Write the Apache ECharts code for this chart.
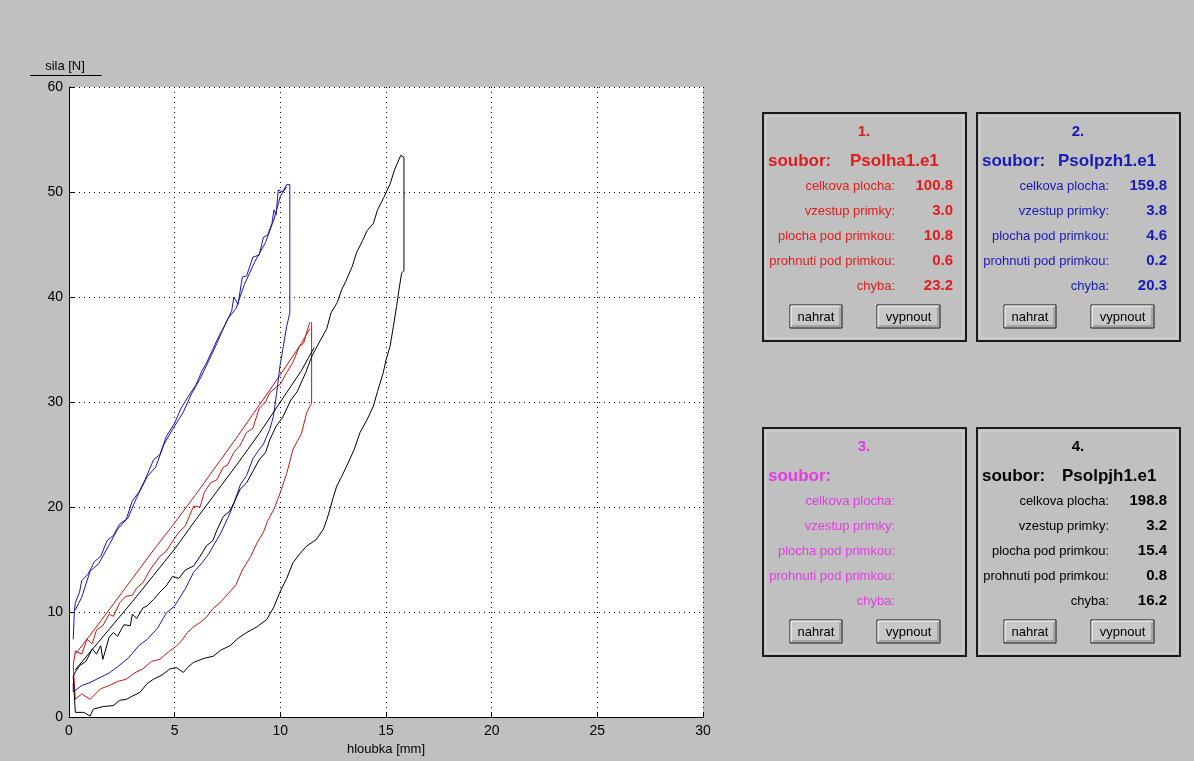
<!DOCTYPE html>
<html>
<head>
<meta charset="utf-8">
<title>sila - hloubka</title>
<script src="https://cdn.jsdelivr.net/npm/echarts@6/dist/echarts.min.js"></script>
<style>
html, body { margin: 0; padding: 0; background: #c0c0c0; }
#chart { width: 1194px; height: 761px; }
</style>
</head>
<body>
<div id="chart"></div>
<script>
// hloubka [mm] / sila [N]
const blueUpperX = [0.2, 0.25, 0.3, 0.5, 0.6, 0.9, 1.2, 1.5, 1.8, 2.1, 2.4, 2.7, 3.0, 3.3, 3.6, 4.0, 4.3, 4.6, 5.0, 5.3, 5.6, 6.0, 6.3, 6.5, 6.8, 7.1, 7.4, 7.7, 7.8, 8.0, 8.2, 8.4, 8.7, 9.0, 9.2, 9.4, 9.6, 9.7, 9.8, 9.9, 10.1, 10.3, 10.45];
const blueUpperY = [7.4, 10.0, 10.9, 11.9, 13.0, 13.6, 14.8, 15.3, 16.8, 17.3, 18.4, 18.8, 20.6, 21.4, 22.6, 24.5, 25.0, 26.7, 28.0, 29.4, 30.4, 31.6, 33.0, 33.7, 35.0, 36.3, 37.4, 38.7, 40.0, 39.3, 41.9, 42.0, 43.8, 44.0, 45.7, 45.9, 47.0, 48.3, 47.8, 50.2, 50.0, 50.7, 50.7];
const blueUpper2X = [0.3, 0.6, 1.0, 1.4, 1.9, 2.3, 2.8, 3.2, 3.7, 4.1, 4.5, 4.9, 5.4, 5.8, 6.2, 6.7, 7.0, 7.5, 7.9, 8.3, 8.8, 9.3, 9.7, 10.0, 10.3];
const blueUpper2Y = [10.2, 11.4, 13.9, 14.6, 16.4, 17.9, 19.0, 20.9, 22.9, 23.8, 26.0, 27.4, 29.0, 30.8, 32.2, 34.3, 35.6, 37.9, 38.9, 41.2, 43.4, 45.2, 47.4, 49.6, 50.5];
const blueLowerX = [10.45, 10.45, 10.3, 10.14, 9.98, 9.83, 9.67, 9.5, 9.2, 8.9, 8.7, 8.4, 8.1, 7.8, 7.5, 7.2, 7.0, 6.6, 6.3, 5.9, 5.5, 5.0, 4.6, 4.2, 3.7, 3.3, 2.8, 2.3, 1.9, 1.5, 1.0, 0.6, 0.2, 0.2];
const blueLowerY = [50.7, 38.5, 37.2, 35.3, 33.4, 30.9, 28.6, 27.4, 26.0, 25.2, 24.6, 23.0, 22.1, 20.3, 18.9, 17.6, 16.9, 15.5, 14.7, 13.8, 12.2, 10.6, 9.9, 8.5, 7.4, 6.8, 5.6, 4.8, 4.2, 3.8, 3.3, 3.0, 2.4, 3.2];

const redUpperX = [0.2, 0.3, 0.6, 0.85, 1.1, 1.3, 1.6, 1.9, 2.1, 2.4, 2.7, 3.0, 3.2, 3.5, 3.8, 4.0, 4.3, 4.6, 4.95, 5.2, 5.5, 5.9, 6.2, 6.4, 6.7, 7.0, 7.3, 7.5, 7.8, 8.1, 8.4, 8.7, 9.0, 9.3, 9.5, 9.8, 10.0, 10.3, 10.6, 10.9, 11.1, 11.3, 11.4];
const redUpperY = [4.9, 6.3, 6.0, 7.4, 7.0, 8.3, 8.7, 9.8, 9.6, 10.9, 11.5, 11.6, 12.3, 12.8, 13.9, 14.5, 15.3, 15.8, 16.9, 17.6, 18.2, 20.1, 20.0, 21.4, 22.3, 22.6, 23.8, 24.0, 25.2, 25.9, 27.1, 27.5, 29.4, 30.0, 30.9, 31.4, 31.7, 32.8, 33.8, 35.3, 35.6, 37.0, 37.6];
const redLowerX = [11.48, 11.48, 11.4, 11.25, 11.0, 10.6, 10.3, 10.0, 9.7, 9.4, 9.2, 8.9, 8.6, 8.2, 7.9, 7.6, 7.2, 6.8, 6.5, 6.2, 5.9, 5.6, 5.3, 5.1, 4.7, 4.3, 3.9, 3.5, 3.1, 2.7, 2.3, 1.9, 1.5, 1.0, 0.6, 0.3, 0.2];
const redLowerY = [37.6, 29.9, 29.6, 29.0, 27.0, 25.5, 23.2, 21.4, 19.8, 18.7, 17.6, 16.6, 15.3, 14.0, 12.6, 11.9, 11.0, 10.3, 9.5, 9.0, 8.6, 8.05, 7.2, 6.8, 6.2, 5.5, 5.3, 4.6, 4.2, 3.6, 3.4, 3.0, 2.7, 1.7, 2.2, 1.7, 4.9];
const redThinX = [0.3, 1.0, 2.0, 3.0, 4.0, 5.0, 6.0, 7.0, 8.0, 9.0, 10.0, 11.0, 11.4];
const redThinY = [6.0, 7.8, 10.5, 13.2, 15.9, 18.5, 21.2, 24.0, 26.8, 29.7, 32.6, 35.6, 37.0];

const blackUpperX = [0.2, 0.3, 0.5, 0.8, 1.1, 1.3, 1.5, 1.6, 1.9, 2.1, 2.3, 2.6, 2.9, 3.0, 3.2, 3.5, 3.7, 4.0, 4.3, 4.6, 4.9, 5.2, 5.5, 5.9, 6.2, 6.5, 6.8, 7.0, 7.3, 7.6, 7.8, 8.1, 8.4, 8.7, 9.0, 9.3, 9.5, 9.8, 10.1, 10.5, 10.8, 11.2, 11.5, 11.9, 12.2, 12.4, 12.7, 12.9, 13.1, 13.4, 13.6, 13.9, 14.1, 14.4, 14.6, 14.9, 15.2, 15.4, 15.7, 15.85];
const blackUpperY = [3.9, 4.3, 4.9, 5.3, 6.5, 6.0, 6.8, 5.5, 7.6, 8.05, 7.7, 8.8, 8.7, 9.8, 9.4, 10.4, 10.6, 11.2, 11.9, 12.5, 13.4, 13.2, 14.0, 14.4, 15.3, 16.3, 16.8, 17.8, 19.1, 19.6, 20.4, 21.7, 22.3, 23.4, 24.5, 25.2, 26.4, 27.7, 28.5, 30.2, 31.0, 32.8, 34.4, 35.9, 37.0, 38.5, 39.5, 40.7, 41.5, 42.9, 44.2, 45.4, 46.3, 47.0, 48.3, 49.5, 50.8, 52.1, 53.5, 53.3];
const blackLowerX = [15.85, 15.85, 15.74, 15.6, 15.5, 15.35, 15.19, 15.0, 14.87, 14.6, 14.4, 14.1, 13.77, 13.5, 13.14, 12.9, 12.67, 12.5, 12.35, 12.2, 12.04, 11.7, 11.25, 10.9, 10.6, 10.3, 9.98, 9.7, 9.36, 8.9, 8.4, 8.0, 7.62, 7.2, 6.83, 6.4, 5.88, 5.6, 5.41, 5.1, 4.78, 4.4, 3.99, 3.7, 3.36, 3.0, 2.73, 2.4, 2.1, 1.6, 1.15, 1.0, 0.7, 0.3, 0.2];
const blackLowerY = [53.3, 42.5, 42.3, 40.5, 39.1, 37.2, 35.3, 34.0, 32.8, 31.0, 29.6, 28.3, 27.1, 25.5, 23.9, 22.9, 22.0, 20.9, 19.8, 18.8, 17.9, 16.9, 16.3, 15.5, 14.7, 13.2, 11.9, 10.5, 9.3, 8.6, 8.05, 7.5, 6.8, 6.4, 5.8, 5.6, 5.2, 4.7, 4.25, 4.7, 4.6, 4.0, 3.6, 3.2, 2.35, 2.0, 1.7, 1.6, 1.1, 1.0, 0.76, 0.1, 0.45, 0.45, 3.9];
const blackThinX = [0.3, 1.0, 2.0, 3.0, 4.0, 5.0, 6.0, 7.0, 8.0, 9.0, 10.0, 11.0, 11.6];
const blackThinY = [4.5, 6.2, 8.6, 11.0, 13.5, 16.0, 18.8, 21.5, 24.2, 27.0, 30.0, 33.0, 35.2];

const xTicks = [0, 5, 10, 15, 20, 25, 30];
const yTicks = [0, 10, 20, 30, 40, 50, 60];

// panely vpravo
const rowLabels = ['celkova plocha:', 'vzestup primky:', 'plocha pod primkou:', 'prohnuti pod primkou:', 'chyba:'];
const panelNames = ['1.', '2.', '3.', '4.'];
const panelFiles = ['Psolha1.e1', 'Psolpzh1.e1', '', 'Psolpjh1.e1'];
const panelValues = [
  ['100.8', '3.0', '10.8', '0.6', '23.2'],
  ['159.8', '3.8', '4.6', '0.2', '20.3'],
  [],
  ['198.8', '3.2', '15.4', '0.8', '16.2']
];

const FONT = 'Liberation Sans, Arial, sans-serif';
const panelColors = ['#e01c1c', '#1a1ab8', '#e23ce2', '#000000'];
const panelPos = [[763, 113], [977, 113], [763, 428], [977, 428]];
const fileOffset = [87, 81, 0, 85];

function zip(xs, ys) {
  return xs.map((x, i) => [x, ys[i]]);
}

function button(x, y, w, h, label) {
  return [
    { type: 'rect', shape: { x: x, y: y, width: w, height: h }, style: { fill: '#c8c8c8', stroke: '#111', lineWidth: 1 } },
    { type: 'polyline', shape: { points: [[x + 1, y + h - 1], [x + 1, y + 1], [x + w - 1, y + 1]] }, style: { stroke: '#fff', fill: null, lineWidth: 1 } },
    { type: 'polyline', shape: { points: [[x + 2, y + h - 2], [x + w - 2, y + h - 2], [x + w - 2, y + 2]] }, style: { stroke: '#808080', fill: null, lineWidth: 1 } },
    { type: 'text', x: x + w / 2, y: y + h / 2 + 1, style: { text: label, font: '13px ' + FONT, fill: '#000', align: 'center', verticalAlign: 'middle' } }
  ];
}

let graphics = [];
panelPos.forEach(function (p, k) {
  let px = p[0], py = p[1], c = panelColors[k];
  graphics.push({ type: 'rect', shape: { x: px, y: py, width: 203, height: 228 }, style: { fill: '#c0c0c0', stroke: '#1a1a1a', lineWidth: 2 } });
  graphics.push({ type: 'rect', shape: { x: px + 3, y: py + 3, width: 197, height: 222 }, style: { fill: null, stroke: '#d6d6d6', lineWidth: 1 } });
  graphics.push({ type: 'text', x: px + 101, y: py + 19, style: { text: panelNames[k], font: 'bold 15px ' + FONT, fill: c, align: 'center', verticalAlign: 'middle' } });
  graphics.push({ type: 'text', x: px + 5, y: py + 48, style: { text: 'soubor:', font: 'bold 17px ' + FONT, fill: c, align: 'left', verticalAlign: 'middle' } });
  if (panelFiles[k]) {
    graphics.push({ type: 'text', x: px + fileOffset[k], y: py + 48, style: { text: panelFiles[k], font: 'bold 17px ' + FONT, fill: c, align: 'left', verticalAlign: 'middle' } });
  }
  rowLabels.forEach(function (lab, i) {
    let ry = py + 73 + 25 * i;
    graphics.push({ type: 'text', x: px + 132, y: ry, style: { text: lab, font: '13px ' + FONT, fill: c, align: 'right', verticalAlign: 'middle' } });
    if (panelValues[k][i]) {
      graphics.push({ type: 'text', x: px + 190, y: ry, style: { text: panelValues[k][i], font: 'bold 15px ' + FONT, fill: c, align: 'right', verticalAlign: 'middle' } });
    }
  });
  graphics = graphics.concat(button(px + 27, py + 192, 52, 23, 'nahrat'));
  graphics = graphics.concat(button(px + 114, py + 192, 63, 23, 'vypnout'));
});

// podtrzeni u popisku osy y
graphics.push({ type: 'line', shape: { x1: 30, y1: 75.5, x2: 102, y2: 75.5 }, style: { stroke: '#000', lineWidth: 1 } });

let chart = echarts.init(document.getElementById('chart'));

function loop(name, color, xs, ys) {
  return {
    name: name,
    type: 'line',
    data: zip(xs, ys),
    showSymbol: false,
    symbol: 'none',
    silent: true,
    lineStyle: { color: color, width: 1 },
    itemStyle: { color: color }
  };
}

const BLUE = '#1818b0';
const RED = '#d01414';

let option = {
  backgroundColor: '#c0c0c0',
  animation: false,
  grid: { left: 69, top: 87, right: 491, bottom: 43, show: true, backgroundColor: '#fff', borderWidth: 0 },
  xAxis: {
    type: 'value',
    min: xTicks[0],
    max: xTicks[xTicks.length - 1],
    interval: 5,
    name: 'hloubka [mm]',
    nameLocation: 'middle',
    nameGap: 24,
    nameTextStyle: { color: '#000', fontSize: 13, fontFamily: FONT },
    axisLine: { show: true, onZero: false, lineStyle: { color: '#000', width: 1 } },
    axisTick: { show: true, inside: true, length: 5, lineStyle: { color: '#000' } },
    axisLabel: { color: '#000', fontSize: 14, fontFamily: FONT, margin: 7 },
    splitLine: { show: true, lineStyle: { color: '#000', width: 1, type: [1, 4] } }
  },
  yAxis: {
    type: 'value',
    min: yTicks[0],
    max: yTicks[yTicks.length - 1],
    interval: 10,
    name: 'sila [N]',
    nameLocation: 'end',
    nameGap: 14,
    nameTextStyle: { color: '#000', fontSize: 13, fontFamily: FONT, padding: [0, 8, 0, 0] },
    axisLine: { show: true, onZero: false, lineStyle: { color: '#000', width: 1 } },
    axisTick: { show: true, inside: true, length: 5, lineStyle: { color: '#000' } },
    axisLabel: { color: '#000', fontSize: 14, fontFamily: FONT, margin: 6 },
    splitLine: { show: true, lineStyle: { color: '#000', width: 1, type: [1, 4] } }
  },
  series: [
    loop('red thin', RED, redThinX, redThinY),
    loop('red upper', RED, redUpperX, redUpperY),
    loop('red lower', RED, redLowerX, redLowerY),
    loop('blue upper 2', BLUE, blueUpper2X, blueUpper2Y),
    loop('blue upper', BLUE, blueUpperX, blueUpperY),
    loop('blue lower', BLUE, blueLowerX, blueLowerY),
    loop('black thin', '#000', blackThinX, blackThinY),
    loop('black upper', '#000', blackUpperX, blackUpperY),
    loop('black lower', '#000', blackLowerX, blackLowerY)
  ],
  graphic: graphics
};

chart.setOption(option);
</script>
</body>
</html>
